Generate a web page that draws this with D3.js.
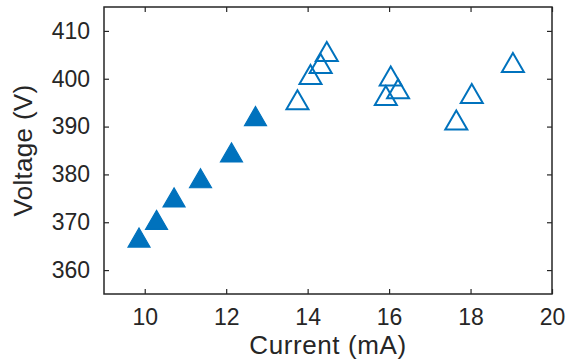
<!DOCTYPE html>
<html>
<head>
<meta charset="utf-8">
<script src="https://cdn.jsdelivr.net/npm/d3@7"></script>
<style>
  body { margin: 0; background: #fff; }
  svg { display: block; font-family: "Liberation Sans", Arial, Helvetica, sans-serif; }
</style>
</head>
<body>
<svg id="chart" width="568" height="360"></svg>
<script>
// filled markers
const filledCurrent = [9.86, 10.29, 10.72, 11.37, 12.13, 12.72];
const filledVoltage = [366.8, 370.5, 375.2, 379.2, 384.6, 392.2];
// open markers
const openCurrent = [13.75, 14.07, 14.32, 14.47, 16.04, 15.92, 16.22, 17.65, 18.03, 19.04];
const openVoltage = [395.6, 400.9, 403.2, 405.7, 400.6, 396.5, 397.9, 391.4, 396.9, 403.4];

const xTicks = [10, 12, 14, 16, 18, 20];
const yTicks = [360, 370, 380, 390, 400, 410];

const margin = { top: 7, right: 16, bottom: 66, left: 104 };
const width = 568 - margin.left - margin.right;
const height = 360 - margin.top - margin.bottom;
const blue = "#0072bd";
const axisColor = "#262626";

const svg = d3.select("#chart");
const g = svg.append("g")
  .attr("transform", "translate(" + margin.left + "," + margin.top + ")");

const x = d3.scaleLinear().domain([9, 20]).range([0, width]);
const y = d3.scaleLinear().domain([355, 415]).range([height, 0]);

// ticks pointing inward on all four sides
function styleAxis(sel) {
  sel.select(".domain").remove();
  sel.selectAll("line").attr("stroke", axisColor).attr("stroke-width", 1.2);
  sel.selectAll("text").attr("fill", axisColor).style("font-size", "23px");
}

g.append("g")
  .attr("transform", "translate(0," + height + ")")
  .call(d3.axisBottom(x).tickValues(xTicks).tickSizeInner(-5).tickSizeOuter(0).tickPadding(15))
  .call(styleAxis);
g.append("g")
  .call(d3.axisTop(x).tickValues(xTicks).tickSizeInner(-5).tickSizeOuter(0).tickFormat(""))
  .call(styleAxis);
g.append("g")
  .call(d3.axisLeft(y).tickValues(yTicks).tickSizeInner(-5).tickSizeOuter(0).tickPadding(14))
  .call(styleAxis);
g.append("g")
  .attr("transform", "translate(" + width + ",0)")
  .call(d3.axisRight(y).tickValues(yTicks).tickSizeInner(-5).tickSizeOuter(0).tickFormat(""))
  .call(styleAxis);

g.append("rect")
  .attr("width", width)
  .attr("height", height)
  .attr("fill", "none")
  .attr("stroke", axisColor)
  .attr("stroke-width", 1.5);

// triangle centred on its bounding box, like matlab '^'
function tri(w, h) {
  return "M0," + (-h / 2) + "L" + (w / 2) + "," + (h / 2) + "L" + (-w / 2) + "," + (h / 2) + "Z";
}

g.selectAll(".filled")
  .data(d3.zip(filledCurrent, filledVoltage))
  .enter()
  .append("path")
  .attr("d", tri(22, 19))
  .attr("transform", d => "translate(" + x(d[0]) + "," + y(d[1]) + ")")
  .attr("fill", blue)
  .attr("stroke", blue)
  .attr("stroke-width", 1.2);

g.selectAll(".open")
  .data(d3.zip(openCurrent, openVoltage))
  .enter()
  .append("path")
  .attr("d", tri(22, 19))
  .attr("transform", d => "translate(" + x(d[0]) + "," + y(d[1]) + ")")
  .attr("fill", "none")
  .attr("stroke", blue)
  .attr("stroke-width", 2);

svg.append("text")
  .attr("x", margin.left + width / 2)
  .attr("y", 354)
  .attr("text-anchor", "middle")
  .attr("fill", axisColor)
  .style("font-size", "26px")
  .style("letter-spacing", "0.6px")
  .text("Current (mA)");

svg.append("text")
  .attr("transform", "translate(32," + (margin.top + height / 2) + ") rotate(-90)")
  .attr("text-anchor", "middle")
  .attr("fill", axisColor)
  .style("font-size", "26px")
  .style("letter-spacing", "0.3px")
  .text("Voltage (V)");
</script>
</body>
</html>
